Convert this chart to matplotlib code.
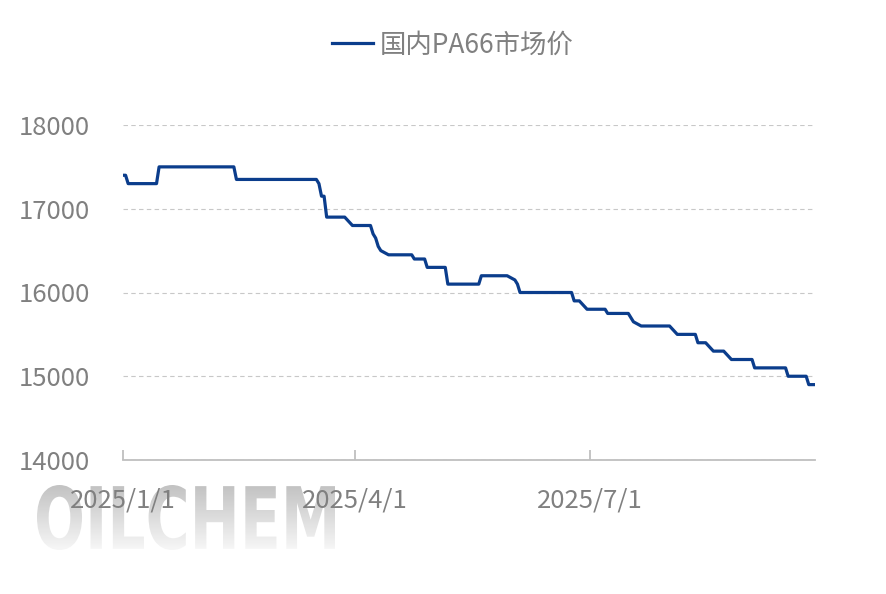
import numpy as np
import pandas as pd
import matplotlib
matplotlib.use("Agg")
import matplotlib.pyplot as plt
from matplotlib.textpath import TextPath
from matplotlib.patches import PathPatch
from matplotlib.font_manager import FontProperties
from matplotlib.transforms import Affine2D
from matplotlib.colors import LinearSegmentedColormap

plt.rcParams['font.family'] = ['Noto Sans CJK SC', 'DejaVu Sans']

series_name = "国内PA66市场价"
dates = ["2025-01-01", "2025-01-02", "2025-01-03", "2025-01-14", "2025-01-15",
         "2025-02-13", "2025-02-14", "2025-03-17", "2025-03-18", "2025-03-19",
         "2025-03-20", "2025-03-21", "2025-03-28", "2025-03-31", "2025-04-07",
         "2025-04-08", "2025-04-09", "2025-04-10", "2025-04-11", "2025-04-14",
         "2025-04-23", "2025-04-24", "2025-04-28", "2025-04-29", "2025-05-06",
         "2025-05-07", "2025-05-19", "2025-05-20", "2025-05-30", "2025-06-02",
         "2025-06-03", "2025-06-04", "2025-06-24", "2025-06-25", "2025-06-27",
         "2025-06-30", "2025-07-07", "2025-07-08", "2025-07-16", "2025-07-17",
         "2025-07-18", "2025-07-21", "2025-08-01", "2025-08-04", "2025-08-11",
         "2025-08-12", "2025-08-15", "2025-08-18", "2025-08-22", "2025-08-25",
         "2025-09-02", "2025-09-03", "2025-09-15", "2025-09-16", "2025-09-23",
         "2025-09-24", "2025-09-26"]
prices = [17400, 17400, 17300, 17300, 17500,
          17500, 17350, 17350, 17300, 17150,
          17150, 16900, 16900, 16800, 16800,
          16700, 16650, 16550, 16500, 16450,
          16450, 16400, 16400, 16300, 16300,
          16100, 16100, 16200, 16200, 16150,
          16100, 16000, 16000, 15900, 15900,
          15800, 15800, 15750, 15750, 15700,
          15650, 15600, 15600, 15500, 15500,
          15400, 15400, 15300, 15300, 15200,
          15200, 15100, 15100, 15000, 15000,
          14900, 14900]
xtick_dates = ["2025-01-01", "2025-04-01", "2025-07-01"]
xtick_labels = ["2025/1/1", "2025/4/1", "2025/7/1"]
yticks = [14000, 15000, 16000, 17000, 18000]

W, H = 886, 594
fig = plt.figure(figsize=(W / 100, H / 100), dpi=100)
fig.patch.set_facecolor('white')

# watermark
wax = fig.add_axes([0, 0, 1, 1], zorder=-5)
wax.set_xlim(0, 1)
wax.set_ylim(0, 1)
wax.axis('off')
fp = FontProperties(family=['Liberation Sans Narrow', 'DejaVu Sans'], weight='bold')
tp = TextPath((0, 0), "OILCHEM", size=1, prop=fp)
bb = tp.get_extents()
x0, x1 = 37 / W, 335 / W
y0, y1 = 1 - 550 / H, 1 - 485 / H
tr = Affine2D().translate(-bb.x0, -bb.y0).scale((x1 - x0) / bb.width, (y1 - y0) / bb.height).translate(x0, y0)
path = tr.transform_path(tp)
patch = PathPatch(path, facecolor='none', edgecolor='none', transform=wax.transData)
wax.add_patch(patch)
grad = np.linspace(0, 1, 256).reshape(-1, 1)
cmap = LinearSegmentedColormap.from_list('wm', ['#c2c2c2', '#f7f7f7'])
im = wax.imshow(grad, extent=[x0, x1, y0, y1], origin='upper', cmap=cmap, aspect='auto', zorder=-5)
im.set_clip_path(patch)

ax = fig.add_axes([123 / W, 1 - 460 / H, (815 - 123) / W, (460 - 125) / H])
ax.set_facecolor('none')
x = pd.to_datetime(dates)
ax.plot(x, prices, color='#0b3d8c', linewidth=2.3, label=series_name, solid_joinstyle='round')

ax.set_ylim(14000, 18000)
ax.set_xlim(pd.Timestamp("2025-01-01"), pd.Timestamp("2025-09-26") + pd.Timedelta(hours=10))
ax.set_yticks(yticks)
ax.set_yticklabels([str(v) for v in yticks])
ax.set_xticks(pd.to_datetime(xtick_dates))
ax.set_xticklabels(xtick_labels)

for s in ['top', 'right', 'left']:
    ax.spines[s].set_visible(False)
ax.spines['bottom'].set_color('#bfbfbf')
ax.spines['bottom'].set_linewidth(1.3)
ax.yaxis.grid(True, color='#c8c8c8', linestyle=(0, (4, 3)), linewidth=0.8)
ax.set_axisbelow(True)
ax.tick_params(axis='y', length=0, pad=24, labelsize=18.5, labelcolor='#808080')
ax.tick_params(axis='x', direction='in', length=7, width=1.3, color='#bfbfbf',
               pad=20, labelsize=18.5, labelcolor='#808080')

leg = ax.legend(loc='center', bbox_to_anchor=(0.511, 1 - 45 / H), bbox_transform=fig.transFigure,
                frameon=False, fontsize=19, handlelength=1.55, handletextpad=0.25,
                labelcolor='#808080')

fig.savefig("out.png", dpi=100)
